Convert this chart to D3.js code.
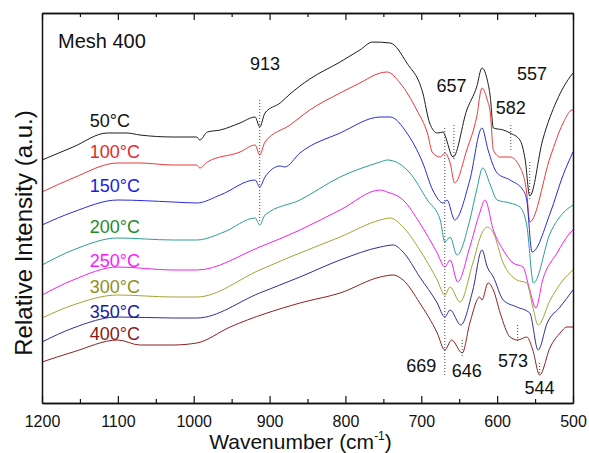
<!DOCTYPE html>
<html>
<head>
<meta charset="utf-8">
<script src="https://cdn.jsdelivr.net/npm/d3@7"></script>
<style>
  body { margin: 0; background: #fff; }
  text { font-family: "Liberation Sans", Arial, sans-serif; fill: #111; }
</style>
</head>
<body>
<div id="chart"></div>
<script>
// 1: DATA (wavenumber cm-1, relative intensity a.u. with stacking offset)
const tempLabels = ["50°C", "100°C", "150°C", "200°C", "250°C", "300°C", "350°C", "400°C"];
const lineColors = ["#1c1c1c", "#e8383d", "#2b2bd8", "#2e9c98", "#ee22ee", "#a3a336", "#2e2e96", "#8e2020"];
const labelColors = ["#111111", "#e52a2a", "#1a1ae0", "#1f8a2a", "#ff1aff", "#8f8f1a", "#1a1a9a", "#8a1a1a"];

const s50 = [[1200,243],[1159,256],[1114,270],[1088,270],[1071,268],[1027,266],[996,266],[992,263],[982,271],[965,273],[939,280],[919,286],[913,276],[906,290],[886,300],[873,309],[847,324],[807,341],[781,353],[764,361],[741,360],[719,340],[698,310],[689,280],[679,270],[671,271],[669,268],[658,246],[640,293],[627,316],[620,335],[613,323],[609,306],[605,275],[592,273],[583,270],[570,263],[563,243],[557,207],[540,263],[521,303],[504,326],[500,330]];
const s100 = [[1200,211],[1159,225],[1100,240],[1071,240],[1027,238],[996,238],[992,235],[982,241],[939,251],[919,258],[913,248],[906,261],[873,278],[847,293],[807,310],[781,320],[754,330],[745,331],[728,320],[706,293],[692,270],[685,250],[675,246],[669,250],[662,240],[656,220],[640,253],[627,286],[620,315],[613,303],[609,290],[605,253],[596,246],[583,246],[570,236],[561,210],[557,181],[530,246],[513,280],[501,293],[500,293]];
const s150 = [[1200,178],[1159,191],[1100,203],[1027,201],[996,200],[965,208],[919,223],[913,216],[906,226],[886,237],[880,236],[860,250],[807,270],[754,286],[741,286],[719,270],[698,240],[685,213],[671,200],[666,203],[656,183],[636,223],[620,275],[612,253],[600,230],[583,223],[566,213],[561,203],[554,151],[530,190],[513,228],[500,251]];
const s200 = [[1200,138],[1159,153],[1100,165],[1027,163],[996,163],[960,171],[919,185],[913,178],[906,188],[860,203],[807,226],[754,241],[745,243],[715,230],[692,203],[675,183],[669,161],[662,166],[653,148],[636,183],[627,213],[619,235],[609,218],[600,203],[583,200],[570,196],[561,178],[552,120],[530,170],[513,190],[500,198]];
const s250 = [[1200,108],[1159,123],[1100,136],[1027,133],[996,133],[913,156],[860,173],[807,193],[754,213],[745,211],[724,203],[702,180],[679,150],[669,136],[662,143],[652,121],[636,156],[623,190],[616,203],[605,173],[592,153],[579,140],[566,136],[557,113],[549,95],[540,123],[521,150],[504,170],[500,173]];
const s300 = [[1200,85],[1159,98],[1100,108],[1027,106],[996,106],[913,133],[873,146],[807,166],[754,183],[741,185],[724,176],[702,153],[679,123],[669,108],[662,116],[649,101],[632,140],[620,170],[613,176],[605,170],[592,140],[574,123],[561,120],[553,96],[546,78],[530,103],[513,123],[500,133]];
const s350 = [[1200,61],[1159,75],[1100,86],[1027,85],[996,85],[913,110],[860,126],[807,143],[754,156],[737,158],[724,151],[702,126],[679,100],[669,86],[662,93],[648,78],[632,113],[620,153],[613,136],[605,126],[592,103],[574,96],[557,90],[546,53],[534,80],[517,96],[500,113]];
const s400 = [[1200,41],[1159,51],[1100,63],[1071,58],[1027,58],[996,60],[952,76],[860,100],[807,110],[754,126],[737,128],[724,123],[702,100],[679,70],[669,53],[660,63],[646,50],[636,80],[623,106],[620,103],[612,120],[605,113],[596,90],[583,66],[573,63],[561,66],[553,53],[544,28],[530,56],[517,70],[508,76],[500,76]];
const allSeries = [s50, s100, s150, s200, s250, s300, s350, s400];

// peak labels and dotted markers
const peakLabels = ["913", "657", "557", "582", "669", "646", "573", "544"];
const peakLabelPos = [[906,333],[660,311],[554,323],[582,289],[700,31],[640,26],[579,36],[544,9]];
const markerLines = [[913,303,181],[669,275,26],[657,278,243],[582,278,253],[557,241,203],[646,63,46],[573,78,60],[544,40,28]];
// temperature label anchors (left edge)
const labelPos = [[1137,276],[1137,245],[1137,211],[1137,170],[1137,136],[1137,110],[1137,85],[1137,63]];

const xTicks = [1200, 1100, 1000, 900, 800, 700, 600, 500];
const xMinorTicks = [1150, 1050, 950, 850, 750, 650, 550];

// 2: SVG SETUP
const margin = { top: 13, right: 16, bottom: 50, left: 42 };
const W = 589, H = 453;
const width = W - margin.left - margin.right;
const height = H - margin.top - margin.bottom;

const svg = d3.select("#chart").append("svg")
    .attr("width", W)
    .attr("height", H)
  .append("g")
    .attr("transform", `translate(${margin.left},${margin.top})`);

// 3: SCALES
const x = d3.scaleLinear().domain([1200, 500]).range([0, width]);
const y = d3.scaleLinear().domain([0, 390]).range([height, 0]);

// 4: LINES
const line = d3.line()
    .x(d => x(d[0]))
    .y(d => y(d[1]))
    .curve(d3.curveMonotoneX);

svg.selectAll(".spec")
  .data(allSeries)
  .join("path")
    .attr("class", "spec")
    .attr("d", line)
    .attr("fill", "none")
    .attr("stroke", (d, i) => lineColors[i])
    .attr("stroke-width", 1);

// dotted markers
svg.selectAll(".marker")
  .data(markerLines)
  .join("line")
    .attr("x1", d => x(d[0]))
    .attr("x2", d => x(d[0]))
    .attr("y1", d => y(d[1]))
    .attr("y2", d => y(d[2]))
    .attr("stroke", "#444")
    .attr("stroke-width", 1)
    .attr("stroke-dasharray", "1,2");

// 5: AXES (inward ticks, frame)
const bottom = svg.append("g").attr("transform", `translate(0,${height})`)
    .call(d3.axisBottom(x).tickValues(xTicks).tickSizeInner(-7).tickSizeOuter(0).tickPadding(13).tickFormat(d3.format("d")));
svg.append("g").attr("transform", `translate(0,${height})`)
    .call(d3.axisBottom(x).tickValues(xMinorTicks).tickSizeInner(-4).tickSizeOuter(0).tickFormat(""));
svg.append("g")
    .call(d3.axisTop(x).tickValues(xTicks).tickSizeInner(-7).tickSizeOuter(0).tickFormat(""));
svg.append("g")
    .call(d3.axisTop(x).tickValues(xMinorTicks).tickSizeInner(-4).tickSizeOuter(0).tickFormat(""));
svg.append("g").call(d3.axisLeft(y).tickValues([]).tickSizeOuter(0));
svg.append("g").attr("transform", `translate(${width},0)`)
    .call(d3.axisRight(y).tickValues([]).tickSizeOuter(0));

svg.selectAll(".domain").attr("stroke", "#111").attr("stroke-width", 1.5);
svg.selectAll(".tick line").attr("stroke", "#111").attr("stroke-width", 1.2);
bottom.selectAll(".tick text")
    .style("font-size", "16px")
    .style("font-family", "'Liberation Sans', Arial, sans-serif")
    .attr("fill", "#111");

// 6: LABELS
svg.selectAll(".tlabel")
  .data(tempLabels)
  .join("text")
    .attr("class", "tlabel")
    .attr("x", (d, i) => x(labelPos[i][0]))
    .attr("y", (d, i) => y(labelPos[i][1]))
    .style("font-size", "18px")
    .style("fill", (d, i) => labelColors[i])
    .text(d => d);

svg.selectAll(".plabel")
  .data(peakLabels)
  .join("text")
    .attr("class", "plabel")
    .attr("x", (d, i) => x(peakLabelPos[i][0]))
    .attr("y", (d, i) => y(peakLabelPos[i][1]))
    .attr("text-anchor", "middle")
    .style("font-size", "18px")
    .text(d => d);

svg.append("text")
    .attr("x", 16)
    .attr("y", 35)
    .style("font-size", "20px")
    .text("Mesh 400");

// X-axis label
const xl = svg.append("text")
    .attr("x", width / 2 - 7)
    .attr("y", height + 46)
    .attr("text-anchor", "middle")
    .style("font-size", "21px");
xl.append("tspan").text("Wavenumber (cm");
xl.append("tspan").attr("dy", -9).style("font-size", "12px").text("-1");
xl.append("tspan").attr("dy", 9).text(")");

// Y-axis label
svg.append("text")
    .attr("transform", "rotate(-90)")
    .attr("x", -(233 - margin.top))
    .attr("y", -margin.left + 32)
    .attr("text-anchor", "middle")
    .style("font-size", "24px")
    .text("Relative Intensity (a.u.)");
</script>
</body>
</html>
